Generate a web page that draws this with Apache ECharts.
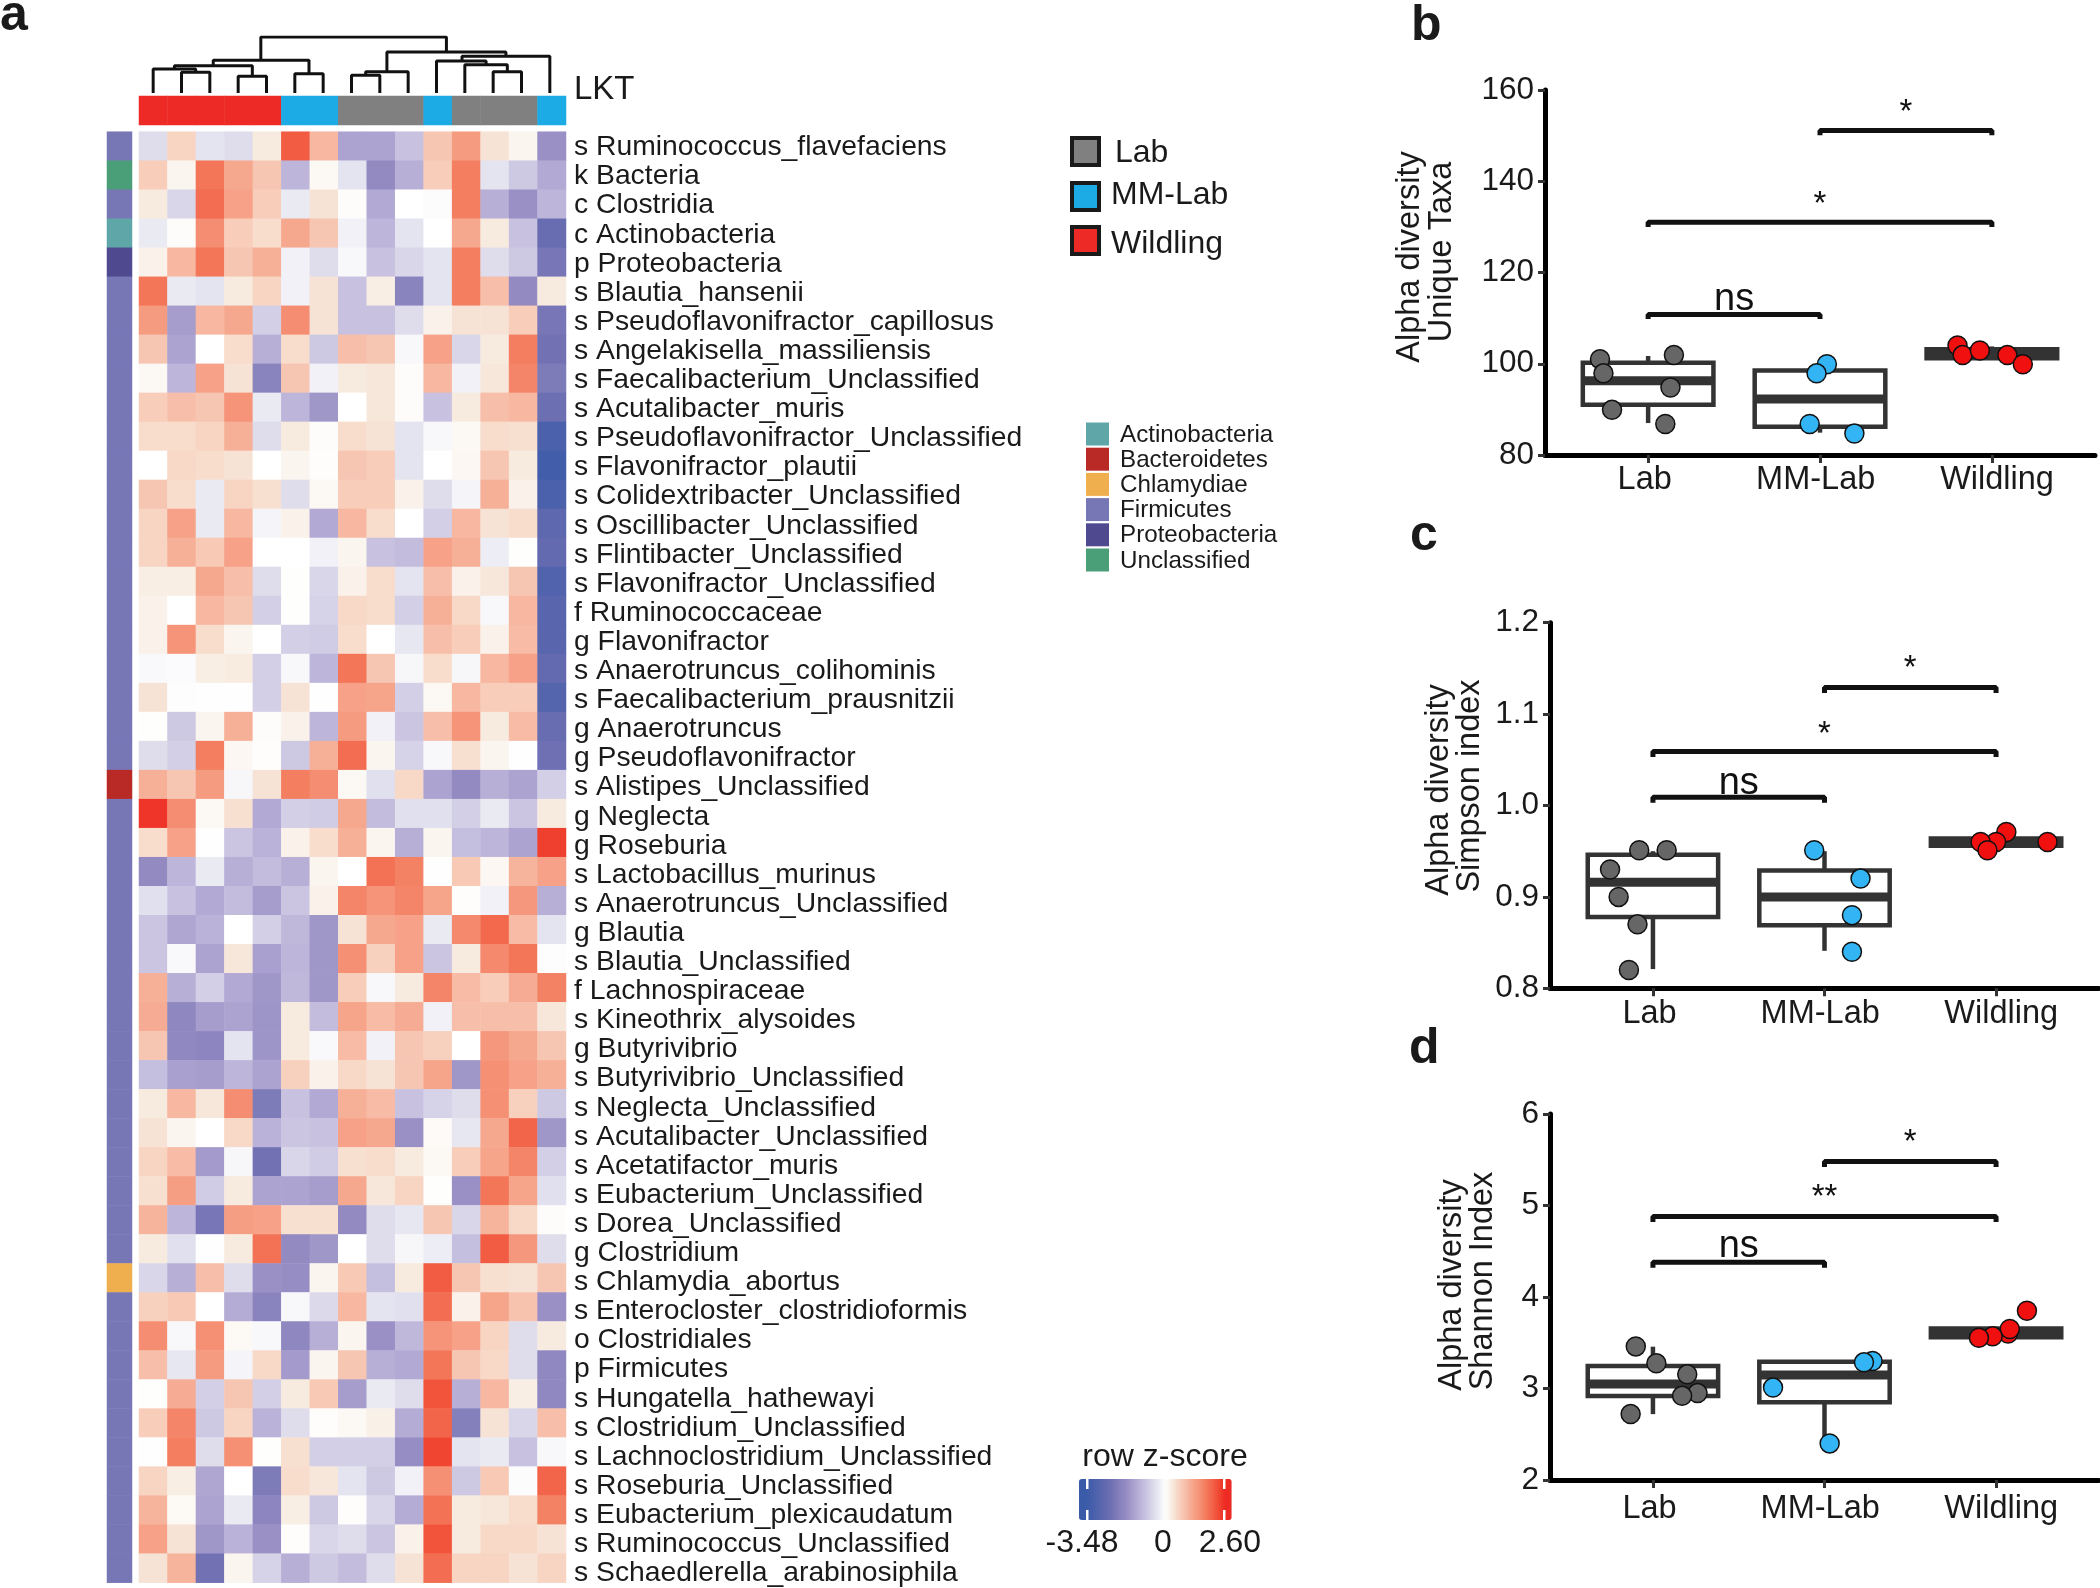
<!DOCTYPE html>
<html>
<head>
<meta charset="utf-8">
<title>Alpha diversity</title>
<script src="https://cdn.jsdelivr.net/npm/echarts@6/dist/echarts.min.js"></script>
<style>
  html, body { margin: 0; padding: 0; background: #fff; }
  #main { width: 2100px; height: 1588px; }
</style>
</head>
<body>
<div id="main"></div>
<script>
// heatmap rows, top to bottom
var rowLabels = [
  's Ruminococcus_flavefaciens', 'k Bacteria', 'c Clostridia', 'c Actinobacteria', 'p Proteobacteria',
  's Blautia_hansenii', 's Pseudoflavonifractor_capillosus', 's Angelakisella_massiliensis',
  's Faecalibacterium_Unclassified', 's Acutalibacter_muris', 's Pseudoflavonifractor_Unclassified',
  's Flavonifractor_plautii', 's Colidextribacter_Unclassified', 's Oscillibacter_Unclassified',
  's Flintibacter_Unclassified', 's Flavonifractor_Unclassified', 'f Ruminococcaceae', 'g Flavonifractor',
  's Anaerotruncus_colihominis', 's Faecalibacterium_prausnitzii', 'g Anaerotruncus', 'g Pseudoflavonifractor',
  's Alistipes_Unclassified', 'g Neglecta', 'g Roseburia', 's Lactobacillus_murinus',
  's Anaerotruncus_Unclassified', 'g Blautia', 's Blautia_Unclassified', 'f Lachnospiraceae',
  's Kineothrix_alysoides', 'g Butyrivibrio', 's Butyrivibrio_Unclassified', 's Neglecta_Unclassified',
  's Acutalibacter_Unclassified', 's Acetatifactor_muris', 's Eubacterium_Unclassified', 's Dorea_Unclassified',
  'g Clostridium', 's Chlamydia_abortus', 's Enterocloster_clostridioformis', 'o Clostridiales', 'p Firmicutes',
  's Hungatella_hathewayi', 's Clostridium_Unclassified', 's Lachnoclostridium_Unclassified',
  's Roseburia_Unclassified', 's Eubacterium_plexicaudatum', 's Ruminococcus_Unclassified',
  's Schaedlerella_arabinosiphila'
];

// z-scores, one line per row
var zScores = [
  [-0.5, 0.6, -0.4, -0.5, 0.3, 2.2, 1.0, -1.4, -1.4, -0.9, 0.8, 1.4, 0.4, 0.15, -1.7],
  [0.7, 0.15, 1.9, 1.2, 0.8, -1.1, 0.1, -0.4, -1.8, -1.2, 0.7, 1.8, -0.4, -0.8, -1.3],
  [0.3, -0.6, 2.0, 1.3, 0.7, -0.3, 0.4, 0.05, -1.3, 0, -0.05, 1.8, -1.2, -1.7, -1.1],
  [-0.3, 0.05, 1.6, 0.7, 0.5, 1.2, 0.8, -0.2, -1.1, -0.4, 0, 1.2, 0.3, -0.9, -2.6],
  [0.2, 1.0, 1.9, 0.8, 1.1, -0.2, -0.5, -0.1, -0.9, -0.6, -0.4, 1.8, -0.5, -0.8, -2.3],
  [1.9, -0.3, -0.4, 0.3, 0.6, -0.2, 0.4, -0.9, 0.25, -2.0, -0.4, 1.8, 0.9, -1.8, 0.3],
  [1.4, -1.5, 1.0, 1.2, -0.7, 1.6, 0.4, -0.9, -0.9, -0.5, 0.2, 0.4, 0.4, 0.7, -2.3],
  [0.8, -1.4, 0, 0.5, -1.2, 0.5, -0.8, 0.9, 0.8, -0.1, 1.3, -0.6, 0.3, 1.8, -2.4],
  [0.1, -1.1, 1.3, 0.4, -2.0, 0.8, -0.2, 0.3, 0.35, 0.05, 1.0, -0.2, 0.35, 1.7, -2.2],
  [0.7, 0.9, 0.8, 1.5, -0.3, -1.1, -1.6, 0, 0.35, 0.05, -0.9, 0.3, 0.9, 1.0, -2.5],
  [0.5, 0.5, 0.6, 1.1, -0.5, 0.3, 0.05, 0.5, 0.4, -0.4, -0.1, 0.1, 0.5, 0.45, -3.2],
  [0, 0.55, 0.5, 0.4, 0, 0.15, 0.03, 0.8, 0.7, -0.4, 0, 0.12, 0.8, 0.3, -3.4],
  [0.8, 0.5, -0.3, 0.6, 0.45, -0.5, 0.1, 0.7, 0.7, 0.2, -0.5, -0.15, 1.1, 0.2, -3.2],
  [0.6, 1.3, -0.3, 1.0, -0.15, 0.2, -1.3, 1.0, 0.5, 0, -0.7, 1.0, 0.4, 0.5, -2.8],
  [0.6, 1.1, 0.75, 1.3, 0, 0, -0.2, 0.15, -0.9, -1.0, 1.3, 1.1, -0.25, 0.02, -2.7],
  [0.25, 0.25, 1.2, 0.9, -0.5, 0.02, -0.6, 0.2, 0.5, -0.4, 0.9, 0.2, 0.35, 0.8, -3.05],
  [0.2, 0, 1.0, 0.8, -0.7, 0.02, -0.65, 0.55, 0.5, -0.7, 1.1, 0.55, -0.1, 1.0, -2.9],
  [0.2, 1.5, 0.5, 0.15, 0, -0.7, -0.75, 0.5, 0, -0.35, 0.9, 0.7, 0.2, 0.95, -2.9],
  [-0.08, -0.06, 0.25, 0.28, -0.7, -0.1, -1.1, 1.9, 0.8, -0.12, 0.5, -0.12, 1.0, 1.3, -2.7],
  [0.4, -0.03, -0.02, -0.02, -0.7, 0.4, -0.01, 1.3, 1.25, -0.7, 0.1, 1.0, 0.7, 0.7, -3.0],
  [0.02, -0.8, 0.15, 1.1, 0.05, 0.2, -1.1, 1.4, -0.2, -0.85, 0.9, 1.5, 0.3, 0.95, -2.6],
  [-0.5, -0.7, 1.8, 0.12, 0.03, -0.8, 1.1, 2.0, 0.15, -0.65, -0.1, 0.45, 0.15, 0.01, -2.45],
  [1.1, 0.8, 1.4, -0.12, 0.4, 1.8, 1.6, 0.1, -0.45, 0.55, -1.4, -1.8, -1.2, -1.4, -0.7],
  [2.6, 1.6, 0.1, 0.45, -1.3, -0.7, -0.75, 1.2, -1.0, -0.45, -0.45, -0.7, -0.3, -0.85, 0.3],
  [0.5, 1.3, -0.02, -0.85, -1.15, 0.2, 0.5, 1.1, 0.15, -1.2, 0.15, -0.95, -1.1, -1.4, 2.5],
  [-1.8, -1.1, -0.3, -1.2, -1.0, -1.2, 0.15, 0, 1.95, 1.75, -0.02, 0.75, 0.12, 1.05, 1.3],
  [-0.45, -0.9, -1.3, -1.0, -1.5, -0.85, 0.2, 1.7, 1.5, 1.7, 1.25, 0.03, -0.2, 1.45, -1.2],
  [-0.85, -1.35, -1.15, 0, -0.7, -1.05, -1.6, 0.4, 1.2, 1.3, -0.3, 1.65, 2.05, 0.95, -0.4],
  [-0.85, -0.08, -1.4, 0.35, -1.45, -1.1, -1.6, 1.55, 0.65, 1.3, -0.85, 0.3, 1.65, 1.9, -0.03],
  [1.1, -1.2, -0.7, -1.3, -1.6, -1.05, -1.6, 0.7, -0.1, 0.3, 1.7, 0.95, 0.7, 1.15, 1.75],
  [1.15, -1.9, -1.5, -1.4, -1.65, 0.3, -1.0, 1.25, 0.95, 1.15, -0.2, 0.9, 0.9, 0.9, 0.35],
  [0.8, -1.85, -1.95, -0.4, -1.65, 0.3, -0.08, 0.95, -0.2, 0.8, 0.65, 0, 1.45, 1.2, 0.8],
  [-0.95, -1.45, -1.5, -1.1, -1.4, 0.65, 0.2, 0.55, 0.4, 0.8, 1.25, -1.6, 1.55, 1.3, 1.1],
  [0.3, 1.0, 0.35, 1.6, -2.2, -0.9, -1.3, 1.1, 0.95, -0.9, -0.65, -0.5, 1.55, 0.65, -0.8],
  [0.4, 0.15, 0, 0.55, -1.15, -0.85, -0.9, 1.3, 1.2, -1.7, 0.07, -0.35, 1.2, 2.1, -1.6],
  [0.6, 0.95, -1.55, -0.12, -2.4, -0.6, -0.75, 0.45, 0.5, 0.3, 0.1, 0.7, 1.25, 1.7, -0.7],
  [0.45, 1.35, -0.75, 0.3, -1.4, -1.4, -1.5, 1.2, 0.35, 0.6, 0.02, -1.7, 1.9, 1.25, -0.45],
  [1.05, -1.1, -2.3, 1.35, 1.3, 0.45, 0.45, -1.8, -0.5, -0.35, 0.8, -0.6, 1.05, 0.55, 0.05],
  [0.3, -0.45, 0.01, 0.3, 1.95, -1.8, -1.6, 0, -0.5, -0.12, -0.25, -0.95, 2.2, 1.45, -0.5],
  [-0.6, -1.2, 0.9, -0.5, -1.7, -1.75, 0.15, 0.75, -0.95, 0.3, 2.2, 0.8, 0.45, 0.4, 0.8],
  [0.65, 0.75, 0, -1.25, -2.0, -0.1, -0.55, 1.0, -0.4, -0.45, 2.0, 0.2, 1.25, 0.85, -1.7],
  [1.6, -0.1, 1.55, 0.08, -0.1, -1.9, -1.2, 0.15, -1.7, -1.05, 1.5, 1.3, 0.6, -0.5, 0.3],
  [0.9, -0.35, 1.4, -0.15, 0.55, -1.55, 0.15, 0.8, -1.2, -1.3, 1.9, 0.8, 0.55, -0.5, -1.85],
  [0.02, 1.15, -0.7, 0.8, -0.7, 0.3, 0.75, -1.5, -0.3, -0.5, 2.3, -1.2, 1.0, 0.25, -1.85],
  [0.7, 1.7, -0.8, 0.6, -1.15, -0.5, 0.03, 0.1, 0.22, -1.25, 2.1, -2.1, 0.4, -0.6, 0.9],
  [0.01, 1.8, -0.5, 1.55, 0.02, 0.45, -0.7, -0.7, -0.7, -1.75, 2.45, -0.4, -0.3, -0.9, -0.1],
  [0.6, 0.25, -1.35, 0, -2.2, 0.5, 0.35, -0.4, -0.8, -0.2, 1.55, -0.8, 0.75, -0.05, 2.1],
  [1.05, 0.08, -1.4, -0.3, -1.95, 0.25, -0.8, 0.03, -0.6, -1.25, 1.95, 0.3, 0.35, 0.5, 1.75],
  [1.3, 0.4, -1.6, -1.15, -1.7, 0.03, -0.6, -0.5, -0.85, 0.2, 2.3, 0.3, 0.55, 0.55, 0.4],
  [0.4, 1.05, -2.4, 0.15, -0.65, -1.2, -0.8, -1.0, -0.5, 0.4, 2.0, 0.6, 0.6, 0.4, 0.6]
];

var phylumNames = ['Actinobacteria', 'Bacteroidetes', 'Chlamydiae', 'Firmicutes', 'Proteobacteria', 'Unclassified'];
var phylumColors = ['#5FA6A8', '#B92A27', '#EFAF4E', '#7877B6', '#4F4A90', '#4A9E78'];
// rows that are not Firmicutes, everything else falls back to it
var rowPhylumExceptions = { 1: 'Unclassified', 3: 'Actinobacteria', 4: 'Proteobacteria', 22: 'Bacteroidetes', 39: 'Chlamydiae' };

var groupNames = ['Lab', 'MM-Lab', 'Wildling'];
var groupColors = ['#808080', '#1CABE4', '#EE2A27'];
var pointColors = ['#666666', '#33B5F5', '#F01010'];
var columnGroups = [2, 2, 2, 2, 2, 1, 1, 0, 0, 0, 1, 0, 0, 0, 1];

// [x1, h1, x2, h2, mergeHeight], x in heatmap columns
var dendroMerges = [
  [1.5, 0, 2.5, 0, 20.7],
  [0.5, 0, 2.0, 20.7, 24],
  [3.5, 0, 4.5, 0, 16.7],
  [1.25, 24, 4.0, 16.7, 27.3],
  [5.5, 0, 6.5, 0, 19.3],
  [2.62, 27.3, 6.0, 19.3, 32.7],
  [7.5, 0, 8.5, 0, 17.7],
  [8.0, 17.7, 9.5, 0, 21.3],
  [12.5, 0, 13.5, 0, 21.3],
  [11.5, 0, 13.0, 21.3, 28.3],
  [10.5, 0, 12.25, 28.3, 32],
  [11.4, 32, 14.5, 0, 36.7],
  [8.75, 21.3, 12.95, 36.7, 41],
  [4.3, 32.7, 10.85, 41, 56]
];

// colour scale, one colour every 0.3 from -3.9 to 3.0
var zScaleColors = ['#3a5ba8', '#3a5ba8', '#465fab', '#5464ad', '#636ab0', '#7271b4', '#8480bc', '#938ac2',
  '#a79dcd', '#b8afd7', '#c8c2e0', '#d9d6e9', '#eaeaf3', '#ffffff', '#f7ebdf', '#f8d4c2', '#f7bfaa', '#f6a88f',
  '#f59479', '#f37e60', '#f2654a', '#f04a34', '#ee2a24', '#ee2a24'];

// boxes: [x, whiskerLow, q1, median, q3, whiskerHigh]
// points: [x, value, group]   brackets: [x1, x2, y, tipDrop]   marks: [x, y, text]
var taxaBoxes = [[1, 87, 91, 96.3, 100.2, 101.7], [2, 84.9, 86.2, 92.3, 98.5, 100], [3, 101.2, 101.2, 102.3, 103.2, 103.8]];
var taxaPoints = [[0.72, 101, 0], [0.74, 97.9, 0], [1.15, 101.9, 0], [1.13, 94.8, 0], [0.79, 89.9, 0], [1.10, 86.8, 0],
  [2.04, 99.9, 1], [1.98, 97.9, 1], [1.94, 86.8, 1], [2.2, 84.7, 1],
  [2.8, 104, 2], [2.83, 101.9, 2], [2.93, 102.9, 2], [3.09, 101.9, 2], [3.18, 99.9, 2]];
var taxaBrackets = [[2, 3, 151.1, 1], [1, 3, 131, 1], [1, 2, 110.8, 1]];
var taxaMarks = [[2.5, 155, '*'], [2, 134.8, '*'], [1.5, 114, 'ns']];

var simpsonBoxes = [[1, 0.821, 0.878, 0.916, 0.946, 0.95], [2, 0.841, 0.869, 0.9, 0.929, 0.95], [3, 0.956, 0.956, 0.96, 0.964, 0.964]];
var simpsonPoints = [[0.92, 0.951, 0], [1.08, 0.951, 0], [0.75, 0.93, 0], [0.8, 0.9, 0], [0.91, 0.87, 0], [0.86, 0.82, 0],
  [1.94, 0.951, 1], [2.21, 0.92, 1], [2.16, 0.88, 1], [2.16, 0.84, 1],
  [3.06, 0.971, 2], [3.0, 0.96, 2], [2.91, 0.96, 2], [2.95, 0.951, 2], [3.3, 0.96, 2]];
var simpsonBrackets = [[2, 3, 1.129, 0.006], [1, 3, 1.059, 0.006], [1, 2, 1.009, 0.006]];
var simpsonMarks = [[2.5, 1.149, '*'], [2, 1.077, '*'], [1.5, 1.024, 'ns']];

var shannonBoxes = [[1, 2.72, 2.918, 3.049, 3.246, 3.457], [2, 2.4, 2.849, 3.148, 3.293, 3.3], [3, 3.56, 3.56, 3.61, 3.657, 3.657]];
var shannonPoints = [[0.9, 3.46, 0], [1.02, 3.275, 0], [1.2, 3.155, 0], [1.26, 2.95, 0], [1.17, 2.92, 0], [0.87, 2.72, 0],
  [2.28, 3.3, 1], [2.23, 3.286, 1], [1.7, 3.01, 1], [2.03, 2.4, 1],
  [3.18, 3.85, 2], [3.07, 3.6, 2], [3.08, 3.65, 2], [2.98, 3.57, 2], [2.9, 3.555, 2]];
var shannonBrackets = [[2, 3, 5.48, 0.06], [1, 3, 4.88, 0.06], [1, 2, 4.38, 0.06]];
var shannonMarks = [[2.5, 5.68, '*'], [2, 5.08, '**'], [1.5, 4.55, 'ns']];

var fontName = '"Liberation Sans"';
var textColor = '#1a1a1a';
var lineColor = '#333333';

var panels = [
  { boxes: taxaBoxes, points: taxaPoints, brackets: taxaBrackets, marks: taxaMarks, min: 80, max: 160, step: 20, digits: 0,
    left: 1545, top: 90, width: 550, height: 365, labelGap: 9 },
  { boxes: simpsonBoxes, points: simpsonPoints, brackets: simpsonBrackets, marks: simpsonMarks, min: 0.8, max: 1.2, step: 0.1, digits: 1,
    left: 1550, top: 622.7, width: 549, height: 365.6, labelGap: 9 },
  { boxes: shannonBoxes, points: shannonPoints, brackets: shannonBrackets, marks: shannonMarks, min: 2, max: 6, step: 1, digits: 0,
    left: 1550, top: 1114, width: 549, height: 366, labelGap: 13 }
];

var grids = [
  { left: 139, top: 131.7, width: 427, height: 1451 }, // heatmap
  { left: 139, top: 96, width: 427, height: 29 },      // group bar
  { left: 107, top: 131.7, width: 25, height: 1451 },  // phylum bar
  { left: 139, top: 37, width: 425, height: 56 },      // dendrogram
  { left: 139, top: 132.9, width: 427, height: 1455 }  // row names, pitch differs a little from the cells
];

var xAxes = [
  { gridIndex: 0, type: 'category', show: false, data: zScores[0].map(function (v, i) { return i; }) },
  { gridIndex: 1, type: 'category', show: false, data: columnGroups.map(function (v, i) { return i; }) },
  { gridIndex: 2, type: 'category', show: false, data: ['phylum'] },
  { gridIndex: 3, type: 'value', show: false, min: 0, max: 15 },
  { gridIndex: 4, type: 'value', show: false, min: 0, max: 1 }
];
var yAxes = [
  { gridIndex: 0, type: 'category', show: false, inverse: true, data: rowLabels },
  { gridIndex: 1, type: 'category', show: false, data: ['group'] },
  { gridIndex: 2, type: 'category', show: false, inverse: true, data: rowLabels },
  { gridIndex: 3, type: 'value', show: false, min: 0, max: 56 },
  {
    gridIndex: 4, type: 'category', inverse: true, position: 'right', data: rowLabels,
    axisLine: { show: false }, axisTick: { show: false },
    axisLabel: { interval: 0, margin: 8, fontFamily: fontName, fontSize: 28.3, color: textColor }
  }
];

var heatData = [];
zScores.forEach(function (row, r) {
  row.forEach(function (z, c) { heatData.push([c, r, z]); });
});

var series = [
  { type: 'heatmap', xAxisIndex: 0, yAxisIndex: 0, data: heatData, progressive: 0, emphasis: { disabled: true } },
  {
    type: 'heatmap', xAxisIndex: 1, yAxisIndex: 1, emphasis: { disabled: true },
    data: columnGroups.map(function (g, c) {
      return { value: [c, 0, g], itemStyle: { color: groupColors[g] } };
    })
  },
  {
    type: 'heatmap', xAxisIndex: 2, yAxisIndex: 2, emphasis: { disabled: true },
    data: rowLabels.map(function (name, r) {
      var p = phylumNames.indexOf(rowPhylumExceptions[r] || 'Firmicutes');
      return { value: [0, r, p], itemStyle: { color: phylumColors[p] } };
    })
  }
];

dendroMerges.forEach(function (m) {
  series.push({
    type: 'line', xAxisIndex: 3, yAxisIndex: 3, showSymbol: false, silent: true,
    lineStyle: { color: '#111', width: 3 },
    data: [[m[0], m[1]], [m[0], m[4]], [m[2], m[4]], [m[2], m[3]]]
  });
});

function drawBox(params, api) {
  var x = api.value(0);
  var low = api.coord([x, api.value(1)]);
  var q1 = api.coord([x, api.value(2)]);
  var med = api.value(3);
  var q3 = api.coord([x, api.value(4)]);
  var high = api.coord([x, api.value(5)]);
  var left = api.coord([x - 0.38, med]);
  var right = api.coord([x + 0.38, med]);
  var stroke = { stroke: lineColor, lineWidth: 4.5, fill: null };
  return {
    type: 'group',
    children: [
      { type: 'line', shape: { x1: low[0], y1: low[1], x2: q1[0], y2: q1[1] }, style: stroke },
      { type: 'line', shape: { x1: q3[0], y1: q3[1], x2: high[0], y2: high[1] }, style: stroke },
      {
        type: 'rect',
        shape: { x: left[0], y: q3[1], width: right[0] - left[0], height: q1[1] - q3[1] },
        style: { stroke: lineColor, lineWidth: 4.5, fill: '#fff' }
      },
      {
        type: 'line', shape: { x1: left[0], y1: left[1], x2: right[0], y2: right[1] },
        style: { stroke: lineColor, lineWidth: 9, fill: null }
      }
    ]
  };
}

function drawMark(params, api) {
  var p = api.coord([api.value(0), api.value(1)]);
  var text = api.value(2);
  return {
    type: 'text', x: p[0], y: p[1],
    style: {
      text: text, fontFamily: fontName, fontSize: text == 'ns' ? 38 : 33, fill: '#111',
      textAlign: 'center', textVerticalAlign: 'middle'
    }
  };
}

panels.forEach(function (panel, i) {
  var axisIdx = grids.length;
  grids.push({ left: panel.left, top: panel.top, width: panel.width, height: panel.height });
  xAxes.push({
    gridIndex: axisIdx, type: 'value', min: 0.4, max: 3.6, splitLine: { show: false },
    axisLine: { onZero: false, lineStyle: { color: '#000', width: 5 } },
    axisTick: { customValues: [1, 2, 3], length: 8, lineStyle: { color: lineColor, width: 3 } },
    axisLabel: {
      customValues: [0.98, 1.975, 3.03], margin: panel.labelGap, fontFamily: fontName, fontSize: 32.5, color: textColor,
      formatter: function (v) { return groupNames[Math.round(v) - 1]; }
    }
  });
  yAxes.push({
    gridIndex: axisIdx, type: 'value', min: panel.min, max: panel.max, interval: panel.step, splitLine: { show: false },
    axisLine: { onZero: false, lineStyle: { color: '#000', width: 5 } },
    axisTick: { length: 7, lineStyle: { color: lineColor, width: 3 } },
    axisLabel: {
      margin: 11, fontFamily: fontName, fontSize: 31.5, color: textColor,
      formatter: function (v) { return v.toFixed(panel.digits); }
    }
  });
  series.push({
    type: 'custom', xAxisIndex: axisIdx, yAxisIndex: axisIdx, silent: true, renderItem: drawBox,
    encode: { x: 0, y: [1, 2, 3, 4, 5] }, data: panel.boxes
  });
  series.push({
    type: 'scatter', xAxisIndex: axisIdx, yAxisIndex: axisIdx, symbolSize: 19, silent: true,
    itemStyle: { opacity: 1, borderColor: '#111', borderWidth: 1.5 },
    data: panel.points.map(function (p) {
      return { value: [p[0], p[1]], itemStyle: { color: pointColors[p[2]] } };
    })
  });
  panel.brackets.forEach(function (b) {
    series.push({
      type: 'line', xAxisIndex: axisIdx, yAxisIndex: axisIdx, showSymbol: false, silent: true,
      lineStyle: { color: '#111', width: 5 },
      data: [[b[0], b[2] - b[3]], [b[0], b[2]], [b[1], b[2]], [b[1], b[2] - b[3]]]
    });
  });
  series.push({
    type: 'custom', xAxisIndex: axisIdx, yAxisIndex: axisIdx, silent: true, renderItem: drawMark,
    encode: { x: 0, y: 1 }, dimensions: ['x', 'y', { name: 'text', type: 'ordinal' }], data: panel.marks
  });
});

// loose text and swatches
function label(text, x, y, size, opts) {
  return {
    type: 'text', x: x, y: y, z: 100, rotation: opts && opts.rotation || 0, silent: true,
    style: {
      text: text, fontFamily: fontName, fontSize: size, fontWeight: opts && opts.bold ? 'bold' : 'normal',
      fill: textColor, textAlign: opts && opts.align || 'left', textVerticalAlign: 'middle'
    }
  };
}
function box(x, y, w, h, fill, stroke) {
  return {
    type: 'rect', z: 100, silent: true, shape: { x: x, y: y, width: w, height: h },
    style: { fill: fill, stroke: stroke || null, lineWidth: stroke ? 4 : 0 }
  };
}

var graphics = [
  label('a', 0, 16, 50, { bold: true }),
  label('b', 1411, 26, 50, { bold: true }),
  label('c', 1410, 536, 50, { bold: true }),
  label('d', 1409, 1049, 50, { bold: true }),
  label('LKT', 574, 89.5, 33),
  label('Lab', 1115, 153.3, 32),
  label('MM-Lab', 1111, 195.3, 32),
  label('Wildling', 1111, 244.3, 32),
  box(1072, 138, 27, 27, groupColors[0], '#1a1a1a'),
  box(1072, 183, 27, 27, groupColors[1], '#1a1a1a'),
  box(1072, 227, 27, 27, groupColors[2], '#1a1a1a'),
  label('row z-score', 1165, 1457, 32, { align: 'center' }),
  label('-3.48', 1082, 1543, 32, { align: 'center' }),
  label('0', 1163, 1543, 32, { align: 'center' }),
  label('2.60', 1230, 1543, 32, { align: 'center' }),
  box(1086, 1479, 2.5, 10, '#fff'), box(1086, 1510, 2.5, 10, '#fff'),
  box(1223, 1479, 2.5, 10, '#fff'), box(1223, 1510, 2.5, 10, '#fff'),
  label('Alpha diversity', 1410, 257, 32.5, { rotation: Math.PI / 2, align: 'center' }),
  label('Unique Taxa', 1442.5, 252, 32.5, { rotation: Math.PI / 2, align: 'center' }),
  label('Alpha diversity', 1439.5, 790, 32.5, { rotation: Math.PI / 2, align: 'center' }),
  label('Simpson index', 1470, 786, 32.5, { rotation: Math.PI / 2, align: 'center' }),
  label('Alpha diversity', 1452, 1285, 32.5, { rotation: Math.PI / 2, align: 'center' }),
  label('Shannon Index', 1483.5, 1281, 32.5, { rotation: Math.PI / 2, align: 'center' })
];
phylumNames.forEach(function (name, i) {
  graphics.push(box(1086, 422.5 + i * 25.2, 23, 23, phylumColors[i]));
  graphics.push(label(name, 1120, 435 + i * 25.2, 24.2));
});

var chart = echarts.init(document.getElementById('main'));
chart.setOption({
  animation: false,
  backgroundColor: '#fff',
  grid: grids,
  xAxis: xAxes,
  yAxis: yAxes,
  visualMap: {
    type: 'continuous', seriesIndex: 0, dimension: 2, min: -3.9, max: 3.0,
    orient: 'horizontal', left: 1079, top: 1479, padding: 0, itemWidth: 41, itemHeight: 152.7,
    text: null, showLabel: false, calculable: false, hoverLink: false,
    inRange: { color: zScaleColors }
  },
  graphic: { elements: graphics },
  series: series
});
</script>
</body>
</html>
